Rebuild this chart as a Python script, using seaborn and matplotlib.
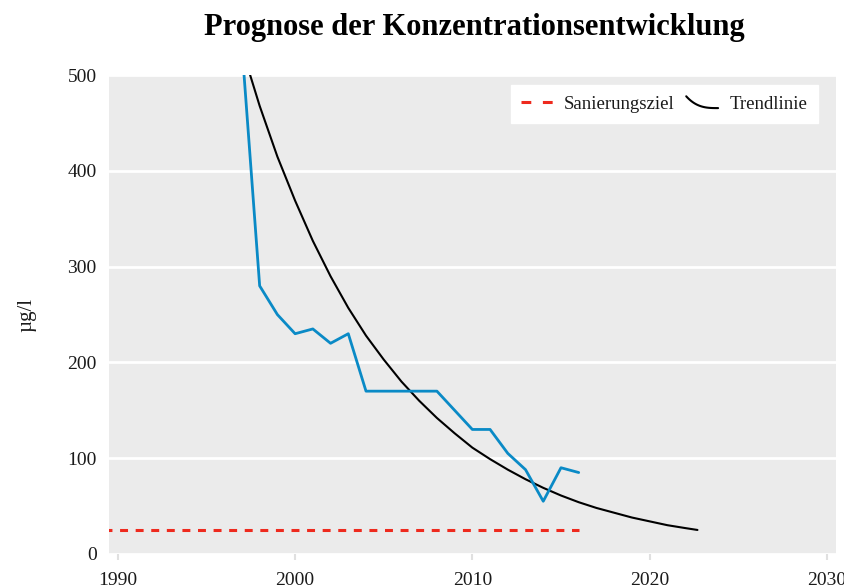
"""
Prognose der Konzentrationsentwicklung - Messwerte, Trendlinie und Sanierungsziel
"""
import numpy as np
import pandas as pd
import matplotlib.pyplot as plt
import seaborn as sns
from matplotlib.legend_handler import HandlerBase
from matplotlib.lines import Line2D

# measured concentration (blue)
years = [1997, 1998, 1999, 2000, 2001, 2002, 2003, 2004, 2005, 2006,
         2007, 2008, 2009, 2010, 2011, 2012, 2013, 2014, 2015, 2016]
values = [530, 280, 250, 230, 235, 220, 230, 170, 170, 170,
          170, 170, 150, 130, 130, 105, 88, 55, 90, 85]

# trend line, one value per year
trend_years = [1997, 1998, 1999, 2000, 2001, 2002, 2003, 2004, 2005, 2006,
               2007, 2008, 2009, 2010, 2011, 2012, 2013, 2014, 2015, 2016,
               2017, 2018, 2019, 2020, 2021, 2022, 2022.7]
trend_values = [528, 468, 415, 369, 327, 290, 257, 228, 203, 180,
                160, 142, 126, 111, 99, 88, 78, 69, 61, 54,
                48, 43, 38, 34, 30, 27, 25]

# remediation target (red dashed)
target_years = [1989.2, 2016]
target_values = [25, 25]

x_ticks = [1990, 2000, 2010, 2020, 2030]
y_ticks = [0, 100, 200, 300, 400, 500]

BLUE = '#0a8ac6'
RED = '#ee2a1e'
BG = '#ebebeb'
TXT = '#1a1a1a'


class CurveHandler(HandlerBase):
    """draw a small bent line as legend key for the trend line"""
    def create_artists(self, legend, orig_handle, xdescent, ydescent,
                       width, height, fontsize, trans):
        t = np.linspace(0, 1, 30)
        xs = -xdescent + width * t
        ys = -ydescent + height * (0.05 + 0.9 * (1 - t) ** 3)
        line = Line2D(xs, ys, color=orig_handle.get_color(),
                      linewidth=orig_handle.get_linewidth())
        line.set_transform(trans)
        return [line]


sns.set_theme(style='white')
plt.rcParams['font.family'] = ['Liberation Serif', 'DejaVu Serif']

fig, ax = plt.subplots(figsize=(8.45, 5.88), dpi=100)
fig.subplots_adjust(left=0.129, right=0.989, top=0.872, bottom=0.058)
ax.set_facecolor(BG)

meas = pd.DataFrame({'year': years, 'value': values})
trend = pd.DataFrame({'year': trend_years, 'value': trend_values})
target = pd.DataFrame({'year': target_years, 'value': target_values})

sns.lineplot(data=target, x='year', y='value', color=RED, linewidth=2.2,
             linestyle=(0, (2.6, 2.5)), ax=ax)
sns.lineplot(data=trend, x='year', y='value', color='black', linewidth=1.5, ax=ax)
sns.lineplot(data=meas, x='year', y='value', color=BLUE, linewidth=2, ax=ax)

ax.set_xlim(1989.5, 2030.5)
ax.set_ylim(0, 500)
ax.set_xticks(x_ticks)
ax.set_yticks(y_ticks)
ax.grid(axis='y', color='white', linewidth=2)
ax.grid(axis='x', visible=False)
ax.set_axisbelow(True)
for side in ax.spines.values():
    side.set_visible(False)
ax.tick_params(axis='x', length=4, width=1.5, color='#e0e0e0', pad=9,
               labelsize=14, labelcolor=TXT, bottom=True)
ax.tick_params(axis='y', length=0, pad=9, labelsize=14, labelcolor=TXT)

ax.set_xlabel('')
ax.set_ylabel('µg/l', fontsize=15, labelpad=22, color=TXT)
fig.text(0.561, 0.953, 'Prognose der Konzentrationsentwicklung', fontsize=22,
         fontweight='bold', ha='center', va='center', color='black')

h_target = Line2D([], [], color=RED, linewidth=2.2, linestyle=(0, (3.2, 3.8)))
h_trend = Line2D([], [], color='black', linewidth=1.5)
leg = ax.legend([h_target, h_trend], ['Sanierungsziel', 'Trendlinie'],
                handler_map={h_trend: CurveHandler()}, ncol=2,
                loc='upper right', bbox_to_anchor=(0.975, 0.979),
                borderaxespad=0, frameon=True, fancybox=False, fontsize=13.5,
                handlelength=1.7, handletextpad=0.6, columnspacing=0.6,
                borderpad=0.55)
leg.get_frame().set_facecolor('white')
leg.get_frame().set_edgecolor('white')
leg.get_frame().set_alpha(1)
for txt in leg.get_texts():
    txt.set_color(TXT)

plt.savefig('out.png', dpi=100)
